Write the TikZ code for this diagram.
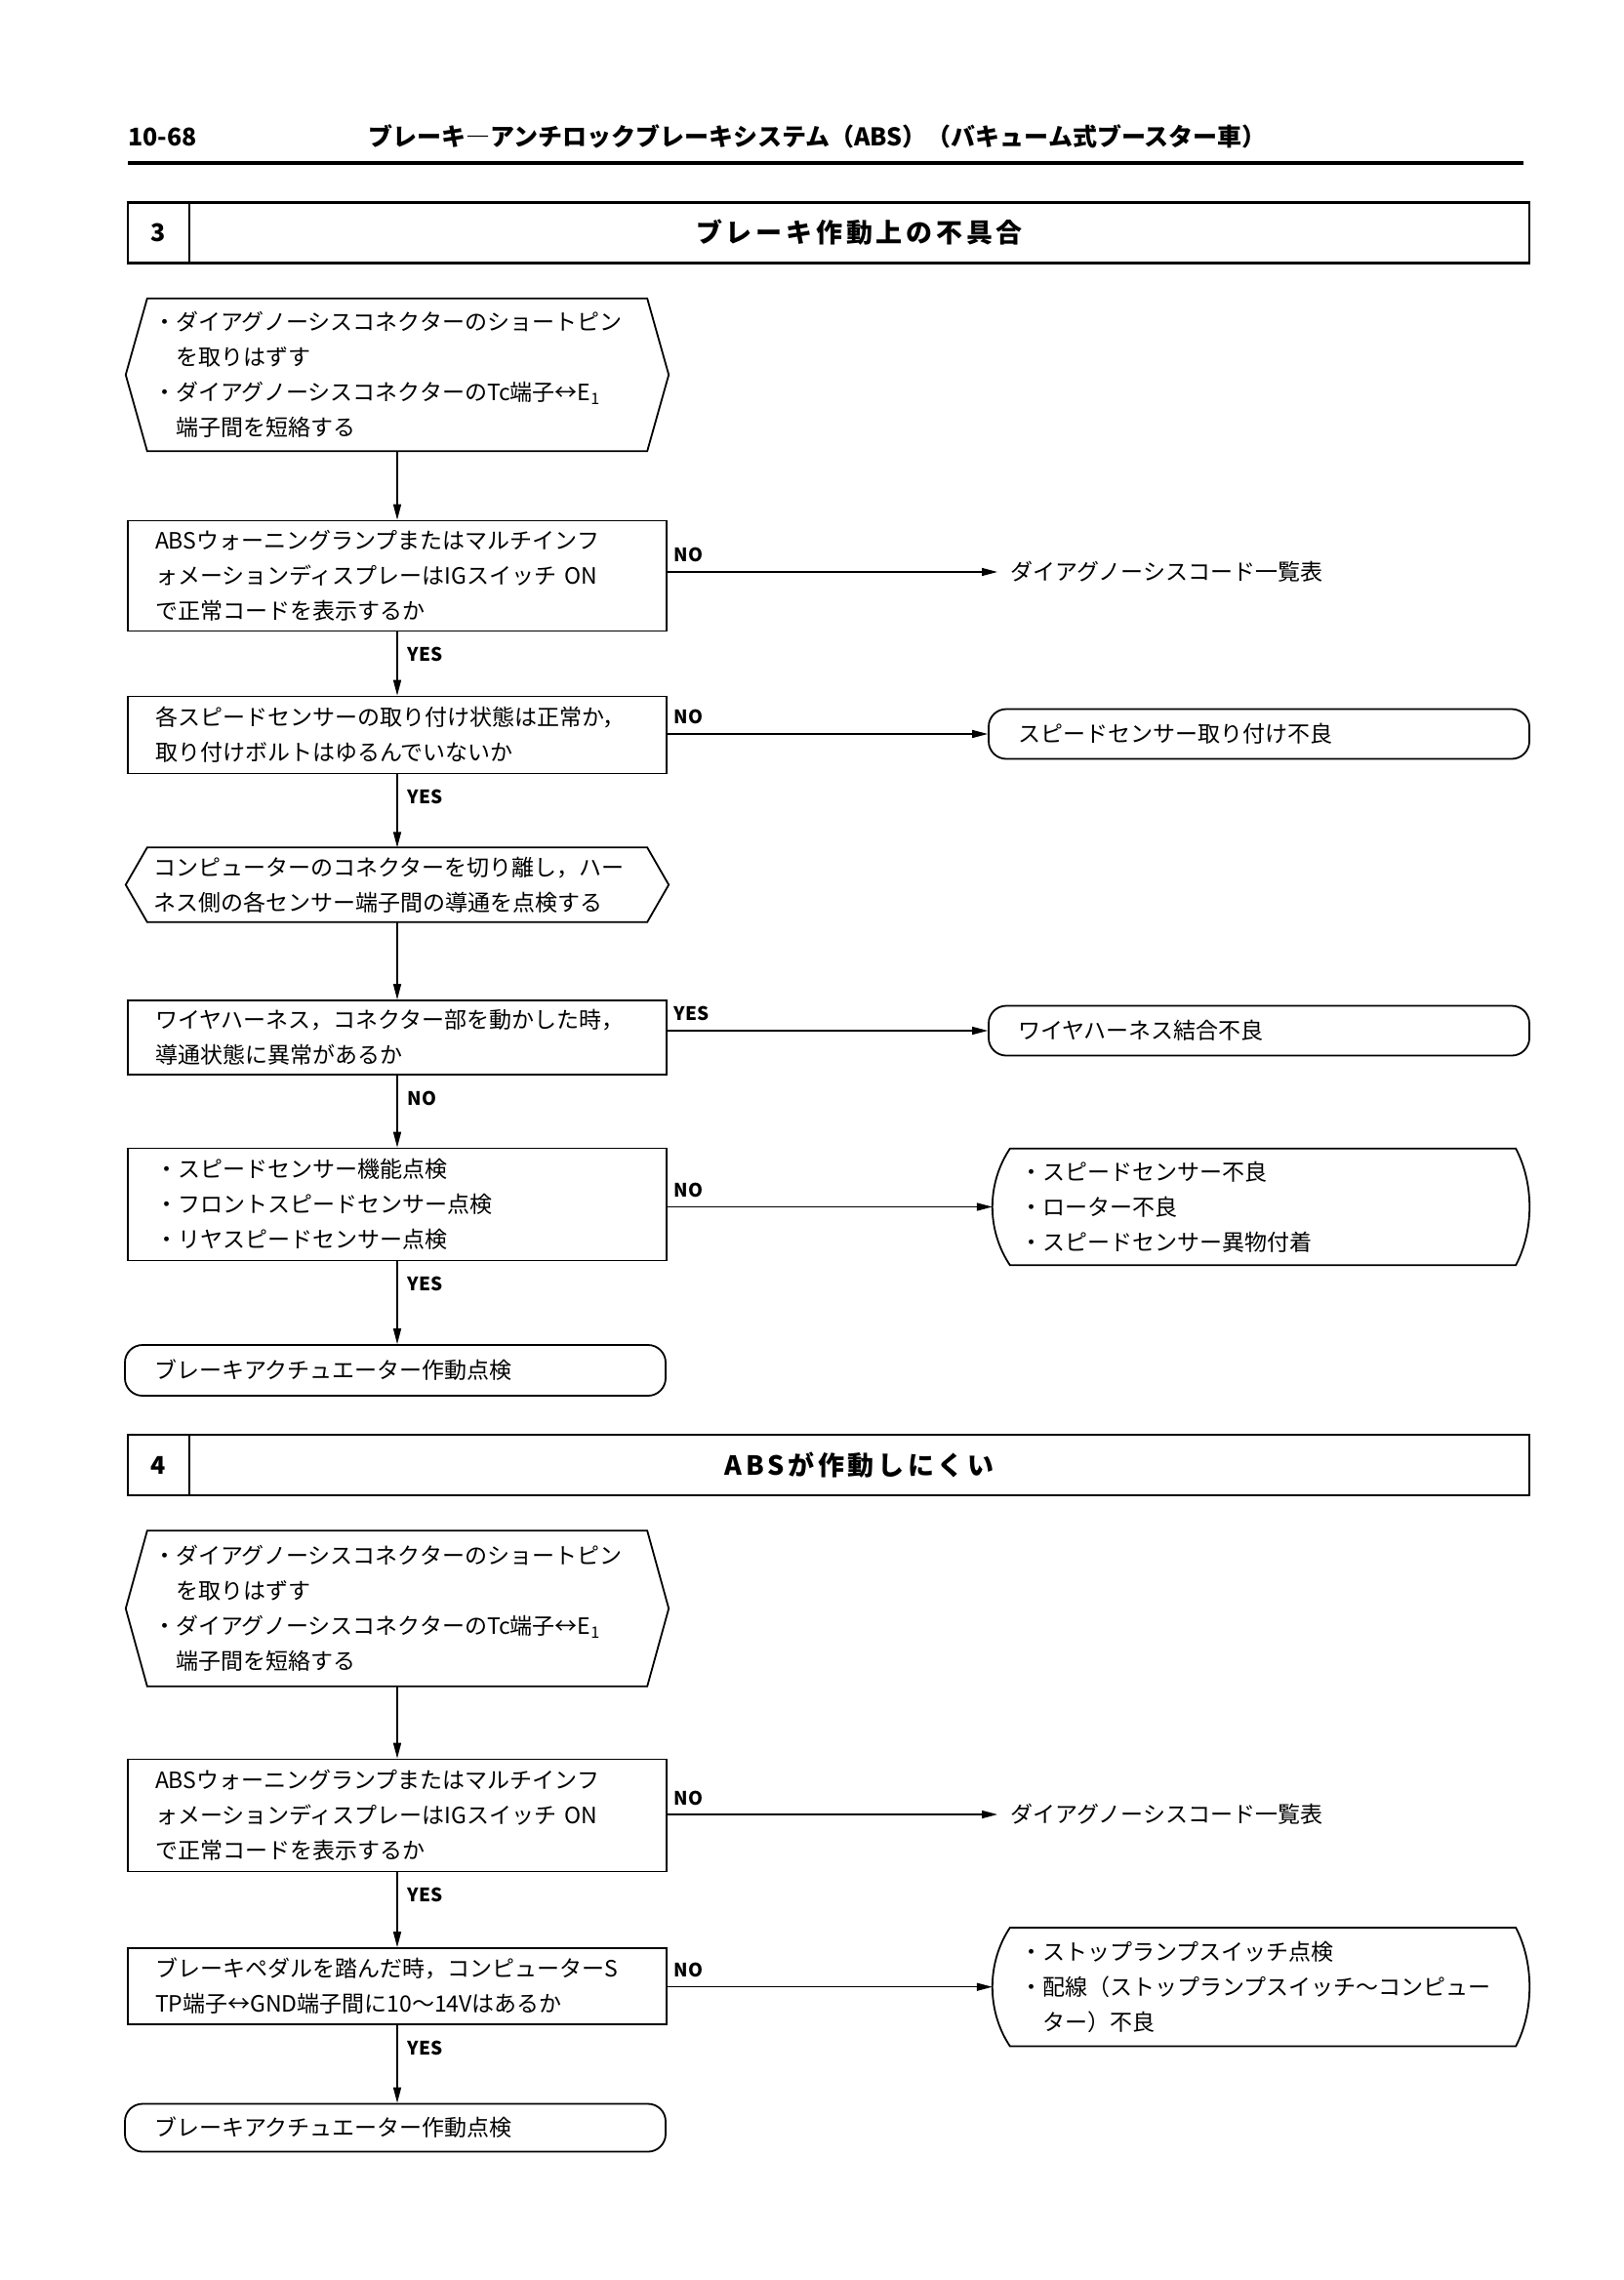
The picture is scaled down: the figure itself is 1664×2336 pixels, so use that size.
\documentclass[tikz,border=0pt]{standalone}
\usepackage{fontspec}
\setmainfont{Noto Sans CJK JP}
\newfontfamily\spacedfont{Noto Sans CJK JP}[LetterSpace=14]
\usepackage{tikz}
\usetikzlibrary{arrows.meta, positioning}

\tikzset{
  boxline/.style={line width=1.8pt},
  txt/.style={align=left, inner ysep=0pt, font=\fontsize{23}{36}\selectfont},
  box/.style={txt, draw, boxline, rectangle, text width=496pt, inner xsep=28pt},
  prep/.style={txt, rectangle, text width=500pt, inner xsep=28pt},
  term/.style={txt, draw, boxline, rounded corners=18pt, text width=494pt, inner xsep=30pt},
  bulge/.style={txt, rectangle, text width=494pt, inner xsep=28pt},
  res/.style={txt, anchor=west, inner xsep=13pt},
  flow/.style={line width=1.5pt, -{Triangle[length=16pt,width=8pt]}},
  lbl/.style={font=\bfseries\fontsize{19}{19}\selectfont, inner sep=3pt},
  sidelbl/.style={lbl, pos=0, anchor=south west, xshift=3pt, yshift=6pt},
  downlbl/.style={lbl, pos=0, anchor=north west, xshift=7pt, yshift=-12pt},
  secnum/.style={draw, line width=2.5pt, outer sep=0pt, minimum width=63pt, minimum height=62pt, font=\bfseries\fontsize{25}{25}\selectfont},
  sectitle/.style={draw, line width=2.5pt, outer sep=0pt, minimum width=1373pt, minimum height=62pt, font=\spacedfont\bfseries\fontsize{27}{27}\selectfont},
  hdr/.style={anchor=west, inner sep=0pt, font=\bfseries\fontsize{25}{25}\selectfont},
}

\newcommand{\prepoutline}[1]{%
  \draw[boxline] (#1.west) -- ([xshift=22pt]#1.north west) -- ([xshift=-22pt]#1.north east)
    -- (#1.east) -- ([xshift=-22pt]#1.south east) -- ([xshift=22pt]#1.south west) -- cycle;}
\newcommand{\bulgeoutline}[1]{%
  \draw[boxline] ([xshift=18pt]#1.north west) -- ([xshift=-14pt]#1.north east)
    .. controls ([xshift=4.7pt,yshift=-36pt]#1.north east) and ([xshift=4.7pt,yshift=36pt]#1.south east) .. ([xshift=-14pt]#1.south east)
    -- ([xshift=18pt]#1.south west)
    .. controls ([xshift=-6pt,yshift=36pt]#1.south west) and ([xshift=-6pt,yshift=-36pt]#1.north west) .. ([xshift=18pt]#1.north west) -- cycle;}

\begin{document}
\begin{tikzpicture}[x=1pt, y=-1pt]
  \useasboundingbox (0,0) rectangle (1664,2336);

  % Page header
  \node[hdr] (pgno) at (131,140) {10-68};
  \node[hdr] (pgtitle) at (377,140) {ブレーキ―アンチロックブレーキシステム（ABS）（バキューム式ブースター車）};
  \draw[line width=3.5pt] (131,167) -- (1561,167);

  % Section 3
  \node[secnum] (s3n) at (162.5,238.5) {3};
  \node[sectitle, right=0pt of s3n] (s3t) {ブレーキ作動上の不具合};

  \node[prep, minimum height=156pt] (h1) at (407,384) {・ダイアグノーシスコネクターのショートピン\\\phantom{・}を取りはずす\\・ダイアグノーシスコネクターのTc端子↔E\textsubscript{1}\\\phantom{・}端子間を短絡する};
  \prepoutline{h1}
  \node[box, minimum height=113pt] (b2) at (407,590) {ABSウォーニングランプまたはマルチインフ\\ォメーションディスプレーはIGスイッチ~ON\\で正常コードを表示するか};
  \node[res] (d1) at (1022,586) {ダイアグノーシスコード一覧表};
  \node[box, minimum height=79pt] (b3) at (407,753) {各スピードセンサーの取り付け状態は正常か，\\取り付けボルトはゆるんでいないか};
  \node[term, minimum height=51pt] (t1) at (1290,752) {スピードセンサー取り付け不良};
  \node[prep, minimum height=76pt] (h2) at (407,906.5) {コンピューターのコネクターを切り離し，ハー\\ネス側の各センサー端子間の導通を点検する};
  \prepoutline{h2}
  \node[box, minimum height=76pt] (b4) at (407,1063) {ワイヤハーネス，コネクター部を動かした時，\\導通状態に異常があるか};
  \node[term, minimum height=51pt] (t2) at (1290,1056) {ワイヤハーネス結合不良};
  \node[box, minimum height=115pt] (b5) at (407,1234) {・スピードセンサー機能点検\\・フロントスピードセンサー点検\\・リヤスピードセンサー点検};
  \node[bulge, minimum height=119pt] (r1) at (1292,1236.5) {・スピードセンサー不良\\・ローター不良\\・スピードセンサー異物付着};
  \bulgeoutline{r1}
  \node[term, minimum height=52pt] (t3) at (405,1404) {ブレーキアクチュエーター作動点検};

  \draw[flow] (h1) -- (b2);
  \draw[flow] (b2.east |- d1) -- node[sidelbl] {NO} (d1);
  \draw[flow] (b2) -- node[downlbl] {YES} (b3);
  \draw[flow] (b3.east |- t1) -- node[sidelbl] {NO} (t1);
  \draw[flow] (b3) -- node[downlbl] {YES} (h2);
  \draw[flow] (h2) -- (b4);
  \draw[flow] (b4.east |- t2) -- node[sidelbl] {YES} (t2);
  \draw[flow] (b4) -- node[downlbl] {NO} (b5);
  \draw[flow] (b5.east |- r1) -- node[sidelbl] {NO} (r1);
  \draw[flow] (b5.south) -- node[downlbl] {YES} (b5.south |- t3.north);

  % Section 4
  \node[secnum] (s4n) at (162.5,1501) {4};
  \node[sectitle, right=0pt of s4n] (s4t) {ABSが作動しにくい};

  \node[prep, minimum height=159pt] (h3) at (407,1648) {・ダイアグノーシスコネクターのショートピン\\\phantom{・}を取りはずす\\・ダイアグノーシスコネクターのTc端子↔E\textsubscript{1}\\\phantom{・}端子間を短絡する};
  \prepoutline{h3}
  \node[box, minimum height=115pt] (b6) at (407,1860) {ABSウォーニングランプまたはマルチインフ\\ォメーションディスプレーはIGスイッチ~ON\\で正常コードを表示するか};
  \node[res] (d2) at (1022,1859) {ダイアグノーシスコード一覧表};
  \node[box, minimum height=78pt] (b7) at (407,2035) {ブレーキペダルを踏んだ時，コンピューターS\\TP端子↔GND端子間に10～14Vはあるか};
  \node[bulge, minimum height=121pt] (r2) at (1292,2035.7) {・ストップランプスイッチ点検\\・配線（ストップランプスイッチ～コンピュー\\\phantom{・}ター）不良};
  \bulgeoutline{r2}
  \node[term, minimum height=49pt] (t4) at (405,2180) {ブレーキアクチュエーター作動点検};

  \draw[flow] (h3) -- (b6);
  \draw[flow] (b6.east |- d2) -- node[sidelbl] {NO} (d2);
  \draw[flow] (b6) -- node[downlbl] {YES} (b7);
  \draw[flow] (b7.east |- r2) -- node[sidelbl] {NO} (r2);
  \draw[flow] (b7.south) -- node[downlbl] {YES} (b7.south |- t4.north);
\end{tikzpicture}
\end{document}
